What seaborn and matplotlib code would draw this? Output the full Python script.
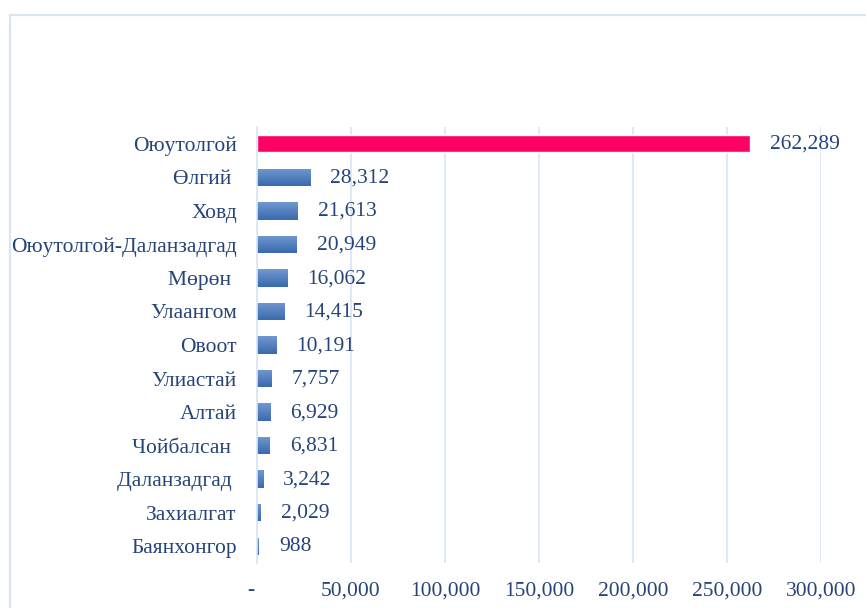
import matplotlib
matplotlib.use("Agg")
import matplotlib.pyplot as plt
import matplotlib.colors as mcolors
import matplotlib.transforms as mtransforms
from matplotlib.lines import Line2D
import numpy as np
import pandas as pd
import seaborn as sns

# Passenger counts by airport
airports = ["Оюутолгой", "Өлгий ", "Ховд", "Оюутолгой-Даланзадгад", "Мөрөн ",
            "Улаангом", "Овоот", "Улиастай", "Алтай", "Чойбалсан ",
            "Даланзадгад ", "Захиалгат", "Баянхонгор"]
passengers = [262289, 28312, 21613, 20949, 16062, 14415, 10191,
              7757, 6929, 6831, 3242, 2029, 988]
x_ticks = [0, 50000, 100000, 150000, 200000, 250000, 300000]
x_tick_labels = ["-", "50,000", "100,000", "150,000", "200,000", "250,000", "300,000"]

HIGHLIGHT = "#FF0066"
BAR_TOP = "#7099D0"
BAR_BOTTOM = "#3A69AE"
TEXT = "#264478"
GRID = "#D9E4F5"
FS = 15.5

sns.set_theme(style="white")
plt.rcParams["font.family"] = ["Liberation Serif", "DejaVu Serif"]

fig = plt.figure(figsize=(8.66, 6.08), dpi=100)
ax = fig.add_axes([257 / 866, 1 - 563 / 608, (821 - 257) / 866, (563 - 127) / 608])

df = pd.DataFrame({"airport": airports, "passengers": passengers})
palette = {a: (HIGHLIGHT if i == 0 else BAR_BOTTOM) for i, a in enumerate(airports)}
sns.barplot(data=df, x="passengers", y="airport", hue="airport", palette=palette,
            order=airports, hue_order=airports, width=0.52, legend=False,
            saturation=1, ax=ax)

# vertical gradient fill on the blue bars
cmap = mcolors.LinearSegmentedColormap.from_list("bar", [BAR_TOP, BAR_BOTTOM])
grad = np.linspace(0, 1, 64).reshape(-1, 1)
for i, patch in enumerate(ax.patches):
    if i == 0:
        continue
    x0, y0 = patch.get_x(), patch.get_y()
    w, h = patch.get_width(), patch.get_height()
    im = ax.imshow(grad, cmap=cmap, aspect="auto", origin="upper",
                   extent=(x0, x0 + w, y0 + h, y0), zorder=patch.get_zorder() + 0.1)
    im.set_clip_path(patch)

# value labels
for i, (v, patch) in enumerate(zip(passengers, ax.patches)):
    yc = patch.get_y() + patch.get_height() / 2
    ax.annotate(f"{v:,}", xy=(v, yc), xytext=(14.5, -0.5), textcoords="offset points",
                ha="left", va="center", fontsize=FS, color=TEXT)

ax.set_xlim(0, 300000)
ax.set_ylim(len(airports) - 0.5, -0.5)
ax.set_xticks(x_ticks)
ax.set_xticklabels(x_tick_labels)
ax.set_xlabel("")
ax.set_ylabel("")
ax.grid(axis="x", color=GRID, linewidth=1.2)
ax.set_axisbelow(True)
for s in ["top", "right", "bottom"]:
    ax.spines[s].set_visible(False)
ax.spines["left"].set_color(GRID)
ax.spines["left"].set_linewidth(1.2)
ax.tick_params(axis="both", length=0, colors=TEXT, labelsize=FS)
ax.tick_params(axis="y", pad=14.5)
ax.tick_params(axis="x", pad=13)

# the zero label sits a little left of its gridline
zero_lbl = ax.get_xticklabels()[0]
zero_lbl.set_transform(zero_lbl.get_transform() +
                       mtransforms.ScaledTranslation(-6 / 100, 0, fig.dpi_scale_trans))

# outer frame
fig.add_artist(Line2D([10 / 866, 10 / 866], [0, 1 - 15 / 608], color=GRID, lw=1.6,
                      transform=fig.transFigure))
fig.add_artist(Line2D([10 / 866, 1], [1 - 15 / 608, 1 - 15 / 608], color=GRID, lw=1.6,
                      transform=fig.transFigure))

fig.savefig("out.png", dpi=100)
